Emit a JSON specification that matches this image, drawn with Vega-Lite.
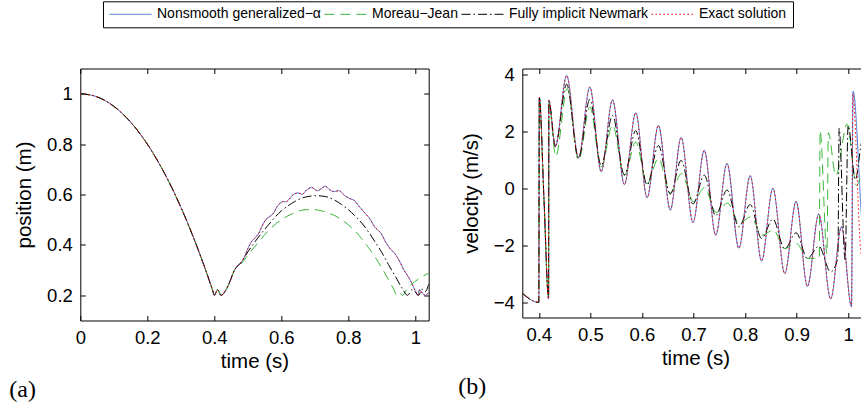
{
  "$schema": "https://vega.github.io/schema/vega-lite/v6.json",
  "padding": {"left": 8.3, "top": 0.5, "right": 0, "bottom": 5},
  "background": "white",
  "bounds": "flush",
  "spacing": 93,
  "config": {
    "view": {"stroke": "black", "strokeWidth": 1},
    "font": "Liberation Sans",
    "axis": {"labelFont": "Liberation Sans", "labelFontSize": 18.5, "labelColor": "black", "titleFont": "Liberation Sans", "titleFontSize": 20.5, "titleFontWeight": "normal", "titleColor": "black", "grid": false, "domain": false, "tickColor": "black", "tickWidth": 1, "labelFlush": false},
    "axisBottom": {"labelPadding": 8, "titlePadding": 5, "labelBaseline": "top"},
    "axisLeft": {"labelPadding": 8, "titlePadding": 12},
    "legend": {"symbolType": "stroke", "symbolSize": 1764, "symbolStrokeWidth": 1, "labelFont": "Liberation Sans", "labelFontSize": 14, "labelColor": "black", "labelLimit": 400, "strokeColor": "black", "fillColor": "white", "padding": 6, "columnPadding": 2, "labelOffset": 5, "clipHeight": 14},
    "title": {"font": "Liberation Serif", "fontSize": 24, "fontWeight": "normal", "color": "black", "orient": "bottom", "anchor": "start", "frame": "group", "offset": 6}
  },
  "resolve": {"scale": {"color": "shared", "strokeDash": "shared"}, "legend": {"color": "shared", "strokeDash": "shared"}},
  "datasets": {
    "pos": [
      {"s": "Nonsmooth generalized−α", "t": 0, "y": 1}, {"s": "Nonsmooth generalized−α", "t": 0.05, "y": 0.9875}, {"s": "Nonsmooth generalized−α", "t": 0.1, "y": 0.95}, {"s": "Nonsmooth generalized−α", "t": 0.15, "y": 0.8875}, {"s": "Nonsmooth generalized−α", "t": 0.2, "y": 0.8}, {"s": "Nonsmooth generalized−α", "t": 0.25, "y": 0.6875}, {"s": "Nonsmooth generalized−α", "t": 0.3, "y": 0.55}, {"s": "Nonsmooth generalized−α", "t": 0.35, "y": 0.3875}, {"s": "Nonsmooth generalized−α", "t": 0.38, "y": 0.278}, {"s": "Nonsmooth generalized−α", "t": 0.39, "y": 0.2395}, {"s": "Nonsmooth generalized−α", "t": 0.395, "y": 0.2199}, {"s": "Nonsmooth generalized−α", "t": 0.4, "y": 0.2}, {"s": "Nonsmooth generalized−α", "t": 0.41, "y": 0.222}, {"s": "Nonsmooth generalized−α", "t": 0.42, "y": 0.2},
      {"s": "Nonsmooth generalized−α", "t": 0.432, "y": 0.215}, {"s": "Nonsmooth generalized−α", "t": 0.445, "y": 0.248}, {"s": "Nonsmooth generalized−α", "t": 0.454, "y": 0.28}, {"s": "Nonsmooth generalized−α", "t": 0.466, "y": 0.312}, {"s": "Nonsmooth generalized−α", "t": 0.478, "y": 0.327}, {"s": "Nonsmooth generalized−α", "t": 0.49, "y": 0.352}, {"s": "Nonsmooth generalized−α", "t": 0.5, "y": 0.385}, {"s": "Nonsmooth generalized−α", "t": 0.512, "y": 0.415}, {"s": "Nonsmooth generalized−α", "t": 0.522, "y": 0.428}, {"s": "Nonsmooth generalized−α", "t": 0.533, "y": 0.447}, {"s": "Nonsmooth generalized−α", "t": 0.543, "y": 0.476}, {"s": "Nonsmooth generalized−α", "t": 0.555, "y": 0.502}, {"s": "Nonsmooth generalized−α", "t": 0.566, "y": 0.513}, {"s": "Nonsmooth generalized−α", "t": 0.577, "y": 0.526}, {"s": "Nonsmooth generalized−α", "t": 0.588, "y": 0.553}, {"s": "Nonsmooth generalized−α", "t": 0.6, "y": 0.569}, {"s": "Nonsmooth generalized−α", "t": 0.607, "y": 0.572}, {"s": "Nonsmooth generalized−α", "t": 0.613, "y": 0.571}, {"s": "Nonsmooth generalized−α", "t": 0.622, "y": 0.579}, {"s": "Nonsmooth generalized−α", "t": 0.634, "y": 0.598}, {"s": "Nonsmooth generalized−α", "t": 0.65, "y": 0.606}, {"s": "Nonsmooth generalized−α", "t": 0.662, "y": 0.601}, {"s": "Nonsmooth generalized−α", "t": 0.677, "y": 0.619}, {"s": "Nonsmooth generalized−α", "t": 0.69, "y": 0.628}, {"s": "Nonsmooth generalized−α", "t": 0.708, "y": 0.615}, {"s": "Nonsmooth generalized−α", "t": 0.72, "y": 0.624}, {"s": "Nonsmooth generalized−α", "t": 0.731, "y": 0.633}, {"s": "Nonsmooth generalized−α", "t": 0.745, "y": 0.618}, {"s": "Nonsmooth generalized−α", "t": 0.756, "y": 0.612}, {"s": "Nonsmooth generalized−α", "t": 0.772, "y": 0.615}, {"s": "Nonsmooth generalized−α", "t": 0.79, "y": 0.595}, {"s": "Nonsmooth generalized−α", "t": 0.806, "y": 0.583}, {"s": "Nonsmooth generalized−α", "t": 0.816, "y": 0.578}, {"s": "Nonsmooth generalized−α", "t": 0.832, "y": 0.553}, {"s": "Nonsmooth generalized−α", "t": 0.854, "y": 0.52}, {"s": "Nonsmooth generalized−α", "t": 0.866, "y": 0.5}, {"s": "Nonsmooth generalized−α", "t": 0.877, "y": 0.475}, {"s": "Nonsmooth generalized−α", "t": 0.899, "y": 0.443}, {"s": "Nonsmooth generalized−α", "t": 0.91, "y": 0.415}, {"s": "Nonsmooth generalized−α", "t": 0.921, "y": 0.392}, {"s": "Nonsmooth generalized−α", "t": 0.943, "y": 0.358}, {"s": "Nonsmooth generalized−α", "t": 0.955, "y": 0.33}, {"s": "Nonsmooth generalized−α", "t": 0.966, "y": 0.3}, {"s": "Nonsmooth generalized−α", "t": 0.977, "y": 0.278}, {"s": "Nonsmooth generalized−α", "t": 0.987, "y": 0.255}, {"s": "Nonsmooth generalized−α", "t": 1.0, "y": 0.218}, {"s": "Nonsmooth generalized−α", "t": 1.007, "y": 0.2}, {"s": "Nonsmooth generalized−α", "t": 1.013, "y": 0.222}, {"s": "Nonsmooth generalized−α", "t": 1.022, "y": 0.207}, {"s": "Nonsmooth generalized−α", "t": 1.03, "y": 0.2}, {"s": "Nonsmooth generalized−α", "t": 1.04, "y": 0.212},

      {"s": "Moreau−Jean", "t": 0, "y": 1}, {"s": "Moreau−Jean", "t": 0.05, "y": 0.9875}, {"s": "Moreau−Jean", "t": 0.1, "y": 0.95}, {"s": "Moreau−Jean", "t": 0.15, "y": 0.8875}, {"s": "Moreau−Jean", "t": 0.2, "y": 0.8}, {"s": "Moreau−Jean", "t": 0.25, "y": 0.6875}, {"s": "Moreau−Jean", "t": 0.3, "y": 0.55}, {"s": "Moreau−Jean", "t": 0.35, "y": 0.3875}, {"s": "Moreau−Jean", "t": 0.38, "y": 0.278}, {"s": "Moreau−Jean", "t": 0.39, "y": 0.2395}, {"s": "Moreau−Jean", "t": 0.395, "y": 0.2199}, {"s": "Moreau−Jean", "t": 0.4, "y": 0.2}, {"s": "Moreau−Jean", "t": 0.41, "y": 0.222}, {"s": "Moreau−Jean", "t": 0.42, "y": 0.2},
      {"s": "Moreau−Jean", "t": 0.432, "y": 0.215}, {"s": "Moreau−Jean", "t": 0.445, "y": 0.25}, {"s": "Moreau−Jean", "t": 0.46, "y": 0.3}, {"s": "Moreau−Jean", "t": 0.48, "y": 0.325}, {"s": "Moreau−Jean", "t": 0.51, "y": 0.376}, {"s": "Moreau−Jean", "t": 0.535, "y": 0.415}, {"s": "Moreau−Jean", "t": 0.56, "y": 0.455}, {"s": "Moreau−Jean", "t": 0.585, "y": 0.485}, {"s": "Moreau−Jean", "t": 0.61, "y": 0.508}, {"s": "Moreau−Jean", "t": 0.63, "y": 0.522}, {"s": "Moreau−Jean", "t": 0.65, "y": 0.533}, {"s": "Moreau−Jean", "t": 0.675, "y": 0.54}, {"s": "Moreau−Jean", "t": 0.7, "y": 0.54}, {"s": "Moreau−Jean", "t": 0.72, "y": 0.535}, {"s": "Moreau−Jean", "t": 0.74, "y": 0.527}, {"s": "Moreau−Jean", "t": 0.76, "y": 0.516}, {"s": "Moreau−Jean", "t": 0.78, "y": 0.5}, {"s": "Moreau−Jean", "t": 0.8, "y": 0.48}, {"s": "Moreau−Jean", "t": 0.82, "y": 0.455}, {"s": "Moreau−Jean", "t": 0.84, "y": 0.425}, {"s": "Moreau−Jean", "t": 0.86, "y": 0.39}, {"s": "Moreau−Jean", "t": 0.88, "y": 0.352}, {"s": "Moreau−Jean", "t": 0.9, "y": 0.308}, {"s": "Moreau−Jean", "t": 0.92, "y": 0.262}, {"s": "Moreau−Jean", "t": 0.935, "y": 0.225}, {"s": "Moreau−Jean", "t": 0.945, "y": 0.2}, {"s": "Moreau−Jean", "t": 0.953, "y": 0.21}, {"s": "Moreau−Jean", "t": 0.962, "y": 0.2}, {"s": "Moreau−Jean", "t": 0.975, "y": 0.225}, {"s": "Moreau−Jean", "t": 0.99, "y": 0.245}, {"s": "Moreau−Jean", "t": 1.01, "y": 0.265}, {"s": "Moreau−Jean", "t": 1.04, "y": 0.288},

      {"s": "Fully implicit Newmark", "t": 0, "y": 1}, {"s": "Fully implicit Newmark", "t": 0.05, "y": 0.9875}, {"s": "Fully implicit Newmark", "t": 0.1, "y": 0.95}, {"s": "Fully implicit Newmark", "t": 0.15, "y": 0.8875}, {"s": "Fully implicit Newmark", "t": 0.2, "y": 0.8}, {"s": "Fully implicit Newmark", "t": 0.25, "y": 0.6875}, {"s": "Fully implicit Newmark", "t": 0.3, "y": 0.55}, {"s": "Fully implicit Newmark", "t": 0.35, "y": 0.3875}, {"s": "Fully implicit Newmark", "t": 0.38, "y": 0.278}, {"s": "Fully implicit Newmark", "t": 0.39, "y": 0.2395}, {"s": "Fully implicit Newmark", "t": 0.395, "y": 0.2199}, {"s": "Fully implicit Newmark", "t": 0.4, "y": 0.2}, {"s": "Fully implicit Newmark", "t": 0.41, "y": 0.222}, {"s": "Fully implicit Newmark", "t": 0.42, "y": 0.2},
      {"s": "Fully implicit Newmark", "t": 0.432, "y": 0.215}, {"s": "Fully implicit Newmark", "t": 0.445, "y": 0.25}, {"s": "Fully implicit Newmark", "t": 0.46, "y": 0.3}, {"s": "Fully implicit Newmark", "t": 0.48, "y": 0.33}, {"s": "Fully implicit Newmark", "t": 0.5, "y": 0.372}, {"s": "Fully implicit Newmark", "t": 0.52, "y": 0.41}, {"s": "Fully implicit Newmark", "t": 0.54, "y": 0.445}, {"s": "Fully implicit Newmark", "t": 0.56, "y": 0.477}, {"s": "Fully implicit Newmark", "t": 0.58, "y": 0.508}, {"s": "Fully implicit Newmark", "t": 0.6, "y": 0.535}, {"s": "Fully implicit Newmark", "t": 0.62, "y": 0.555}, {"s": "Fully implicit Newmark", "t": 0.64, "y": 0.572}, {"s": "Fully implicit Newmark", "t": 0.66, "y": 0.585}, {"s": "Fully implicit Newmark", "t": 0.68, "y": 0.592}, {"s": "Fully implicit Newmark", "t": 0.7, "y": 0.595}, {"s": "Fully implicit Newmark", "t": 0.72, "y": 0.594}, {"s": "Fully implicit Newmark", "t": 0.74, "y": 0.589}, {"s": "Fully implicit Newmark", "t": 0.76, "y": 0.577}, {"s": "Fully implicit Newmark", "t": 0.78, "y": 0.56}, {"s": "Fully implicit Newmark", "t": 0.8, "y": 0.54}, {"s": "Fully implicit Newmark", "t": 0.82, "y": 0.515}, {"s": "Fully implicit Newmark", "t": 0.84, "y": 0.487}, {"s": "Fully implicit Newmark", "t": 0.86, "y": 0.452}, {"s": "Fully implicit Newmark", "t": 0.88, "y": 0.412}, {"s": "Fully implicit Newmark", "t": 0.9, "y": 0.37}, {"s": "Fully implicit Newmark", "t": 0.92, "y": 0.322}, {"s": "Fully implicit Newmark", "t": 0.94, "y": 0.276}, {"s": "Fully implicit Newmark", "t": 0.96, "y": 0.23}, {"s": "Fully implicit Newmark", "t": 0.977, "y": 0.2}, {"s": "Fully implicit Newmark", "t": 0.99, "y": 0.222}, {"s": "Fully implicit Newmark", "t": 1.0, "y": 0.212}, {"s": "Fully implicit Newmark", "t": 1.01, "y": 0.2}, {"s": "Fully implicit Newmark", "t": 1.02, "y": 0.225}, {"s": "Fully implicit Newmark", "t": 1.03, "y": 0.215}, {"s": "Fully implicit Newmark", "t": 1.04, "y": 0.245},

      {"s": "Exact solution", "t": 0, "y": 1}, {"s": "Exact solution", "t": 0.05, "y": 0.9875}, {"s": "Exact solution", "t": 0.1, "y": 0.95}, {"s": "Exact solution", "t": 0.15, "y": 0.8875}, {"s": "Exact solution", "t": 0.2, "y": 0.8}, {"s": "Exact solution", "t": 0.25, "y": 0.6875}, {"s": "Exact solution", "t": 0.3, "y": 0.55}, {"s": "Exact solution", "t": 0.35, "y": 0.3875}, {"s": "Exact solution", "t": 0.38, "y": 0.278}, {"s": "Exact solution", "t": 0.39, "y": 0.2395}, {"s": "Exact solution", "t": 0.395, "y": 0.2199}, {"s": "Exact solution", "t": 0.4, "y": 0.2}, {"s": "Exact solution", "t": 0.41, "y": 0.222}, {"s": "Exact solution", "t": 0.42, "y": 0.2},
      {"s": "Exact solution", "t": 0.432, "y": 0.215}, {"s": "Exact solution", "t": 0.445, "y": 0.248}, {"s": "Exact solution", "t": 0.454, "y": 0.28}, {"s": "Exact solution", "t": 0.466, "y": 0.312}, {"s": "Exact solution", "t": 0.478, "y": 0.327}, {"s": "Exact solution", "t": 0.49, "y": 0.352}, {"s": "Exact solution", "t": 0.5, "y": 0.385}, {"s": "Exact solution", "t": 0.512, "y": 0.415}, {"s": "Exact solution", "t": 0.522, "y": 0.428}, {"s": "Exact solution", "t": 0.533, "y": 0.447}, {"s": "Exact solution", "t": 0.543, "y": 0.476}, {"s": "Exact solution", "t": 0.555, "y": 0.502}, {"s": "Exact solution", "t": 0.566, "y": 0.513}, {"s": "Exact solution", "t": 0.577, "y": 0.526}, {"s": "Exact solution", "t": 0.588, "y": 0.553}, {"s": "Exact solution", "t": 0.6, "y": 0.569}, {"s": "Exact solution", "t": 0.607, "y": 0.572}, {"s": "Exact solution", "t": 0.613, "y": 0.571}, {"s": "Exact solution", "t": 0.622, "y": 0.579}, {"s": "Exact solution", "t": 0.634, "y": 0.598}, {"s": "Exact solution", "t": 0.65, "y": 0.606}, {"s": "Exact solution", "t": 0.662, "y": 0.601}, {"s": "Exact solution", "t": 0.677, "y": 0.619}, {"s": "Exact solution", "t": 0.69, "y": 0.628}, {"s": "Exact solution", "t": 0.708, "y": 0.615}, {"s": "Exact solution", "t": 0.72, "y": 0.624}, {"s": "Exact solution", "t": 0.731, "y": 0.633}, {"s": "Exact solution", "t": 0.745, "y": 0.618}, {"s": "Exact solution", "t": 0.756, "y": 0.612}, {"s": "Exact solution", "t": 0.772, "y": 0.615}, {"s": "Exact solution", "t": 0.79, "y": 0.595}, {"s": "Exact solution", "t": 0.806, "y": 0.583}, {"s": "Exact solution", "t": 0.816, "y": 0.578}, {"s": "Exact solution", "t": 0.832, "y": 0.553}, {"s": "Exact solution", "t": 0.854, "y": 0.52}, {"s": "Exact solution", "t": 0.866, "y": 0.5}, {"s": "Exact solution", "t": 0.877, "y": 0.475}, {"s": "Exact solution", "t": 0.899, "y": 0.443}, {"s": "Exact solution", "t": 0.91, "y": 0.415}, {"s": "Exact solution", "t": 0.921, "y": 0.392}, {"s": "Exact solution", "t": 0.943, "y": 0.358}, {"s": "Exact solution", "t": 0.955, "y": 0.33}, {"s": "Exact solution", "t": 0.966, "y": 0.3}, {"s": "Exact solution", "t": 0.977, "y": 0.278}, {"s": "Exact solution", "t": 0.987, "y": 0.255}, {"s": "Exact solution", "t": 1.0, "y": 0.218}, {"s": "Exact solution", "t": 1.007, "y": 0.2}, {"s": "Exact solution", "t": 1.013, "y": 0.222}, {"s": "Exact solution", "t": 1.022, "y": 0.207}, {"s": "Exact solution", "t": 1.03, "y": 0.2}, {"s": "Exact solution", "t": 1.04, "y": 0.212}
    ],
    "vel": [
      {"s": "Nonsmooth generalized−α", "t": 0.368, "y": -3.68}, {"s": "Nonsmooth generalized−α", "t": 0.4, "y": -4.0}, {"s": "Nonsmooth generalized−α", "t": 0.401, "y": 3.2}, {"s": "Nonsmooth generalized−α", "t": 0.41, "y": -0.35}, {"s": "Nonsmooth generalized−α", "t": 0.419, "y": -3.88}, {"s": "Nonsmooth generalized−α", "t": 0.4195, "y": 3.1}, {"s": "Nonsmooth generalized−α", "t": 0.432, "y": 1.45}, {"s": "Nonsmooth generalized−α", "t": 0.454, "y": 3.95}, {"s": "Nonsmooth generalized−α", "t": 0.477, "y": 1.08}, {"s": "Nonsmooth generalized−α", "t": 0.499, "y": 3.55}, {"s": "Nonsmooth generalized−α", "t": 0.521, "y": 0.58}, {"s": "Nonsmooth generalized−α", "t": 0.543, "y": 3.1}, {"s": "Nonsmooth generalized−α", "t": 0.566, "y": 0.13}, {"s": "Nonsmooth generalized−α", "t": 0.588, "y": 2.65}, {"s": "Nonsmooth generalized−α", "t": 0.61, "y": -0.33}, {"s": "Nonsmooth generalized−α", "t": 0.632, "y": 2.2}, {"s": "Nonsmooth generalized−α", "t": 0.655, "y": -0.76}, {"s": "Nonsmooth generalized−α", "t": 0.676, "y": 1.78}, {"s": "Nonsmooth generalized−α", "t": 0.699, "y": -1.2}, {"s": "Nonsmooth generalized−α", "t": 0.721, "y": 1.33}, {"s": "Nonsmooth generalized−α", "t": 0.743, "y": -1.64}, {"s": "Nonsmooth generalized−α", "t": 0.765, "y": 0.87}, {"s": "Nonsmooth generalized−α", "t": 0.788, "y": -2.1}, {"s": "Nonsmooth generalized−α", "t": 0.81, "y": 0.44}, {"s": "Nonsmooth generalized−α", "t": 0.832, "y": -2.55}, {"s": "Nonsmooth generalized−α", "t": 0.854, "y": 0.0}, {"s": "Nonsmooth generalized−α", "t": 0.877, "y": -2.99}, {"s": "Nonsmooth generalized−α", "t": 0.899, "y": -0.46}, {"s": "Nonsmooth generalized−α", "t": 0.921, "y": -3.44}, {"s": "Nonsmooth generalized−α", "t": 0.943, "y": -0.9}, {"s": "Nonsmooth generalized−α", "t": 0.966, "y": -3.88}, {"s": "Nonsmooth generalized−α", "t": 0.987, "y": -1.35}, {"s": "Nonsmooth generalized−α", "t": 1.0065, "y": -4.15}, {"s": "Nonsmooth generalized−α", "t": 1.0095, "y": 3.4}, {"s": "Nonsmooth generalized−α", "t": 1.028, "y": -1.5}, {"s": "Nonsmooth generalized−α", "t": 1.04, "y": -3.0},

      {"s": "Moreau−Jean", "t": 0.368, "y": -3.68}, {"s": "Moreau−Jean", "t": 0.4, "y": -4.0}, {"s": "Moreau−Jean", "t": 0.401, "y": 3.15}, {"s": "Moreau−Jean", "t": 0.41, "y": -0.4}, {"s": "Moreau−Jean", "t": 0.419, "y": -3.8}, {"s": "Moreau−Jean", "t": 0.4195, "y": 3.0}, {"s": "Moreau−Jean", "t": 0.433, "y": 1.12}, {"s": "Moreau−Jean", "t": 0.455, "y": 3.5}, {"s": "Moreau−Jean", "t": 0.477, "y": 0.98}, {"s": "Moreau−Jean", "t": 0.499, "y": 2.85}, {"s": "Moreau−Jean", "t": 0.521, "y": 0.75}, {"s": "Moreau−Jean", "t": 0.543, "y": 2.22}, {"s": "Moreau−Jean", "t": 0.566, "y": 0.45}, {"s": "Moreau−Jean", "t": 0.588, "y": 1.62}, {"s": "Moreau−Jean", "t": 0.61, "y": 0.17}, {"s": "Moreau−Jean", "t": 0.632, "y": 1.05}, {"s": "Moreau−Jean", "t": 0.655, "y": -0.16}, {"s": "Moreau−Jean", "t": 0.677, "y": 0.52}, {"s": "Moreau−Jean", "t": 0.7, "y": -0.47}, {"s": "Moreau−Jean", "t": 0.721, "y": 0.02}, {"s": "Moreau−Jean", "t": 0.744, "y": -0.85}, {"s": "Moreau−Jean", "t": 0.766, "y": -0.52}, {"s": "Moreau−Jean", "t": 0.789, "y": -1.23}, {"s": "Moreau−Jean", "t": 0.811, "y": -1.0}, {"s": "Moreau−Jean", "t": 0.833, "y": -1.64}, {"s": "Moreau−Jean", "t": 0.855, "y": -1.47}, {"s": "Moreau−Jean", "t": 0.877, "y": -2.11}, {"s": "Moreau−Jean", "t": 0.899, "y": -1.93}, {"s": "Moreau−Jean", "t": 0.922, "y": -2.46}, {"s": "Moreau−Jean", "t": 0.944, "y": -2.45}, {"s": "Moreau−Jean", "t": 0.9455, "y": 2.02}, {"s": "Moreau−Jean", "t": 0.959, "y": -2.3}, {"s": "Moreau−Jean", "t": 0.9615, "y": 1.95}, {"s": "Moreau−Jean", "t": 0.976, "y": 0.45}, {"s": "Moreau−Jean", "t": 0.998, "y": 2.25}, {"s": "Moreau−Jean", "t": 1.016, "y": 0.1}, {"s": "Moreau−Jean", "t": 1.028, "y": 0.6}, {"s": "Moreau−Jean", "t": 1.04, "y": 1.0},

      {"s": "Fully implicit Newmark", "t": 0.368, "y": -3.68}, {"s": "Fully implicit Newmark", "t": 0.4, "y": -4.0}, {"s": "Fully implicit Newmark", "t": 0.401, "y": 3.2}, {"s": "Fully implicit Newmark", "t": 0.41, "y": -0.35}, {"s": "Fully implicit Newmark", "t": 0.419, "y": -3.85}, {"s": "Fully implicit Newmark", "t": 0.4195, "y": 3.05}, {"s": "Fully implicit Newmark", "t": 0.432, "y": 1.5}, {"s": "Fully implicit Newmark", "t": 0.454, "y": 3.65}, {"s": "Fully implicit Newmark", "t": 0.477, "y": 1.05}, {"s": "Fully implicit Newmark", "t": 0.499, "y": 3.12}, {"s": "Fully implicit Newmark", "t": 0.521, "y": 0.8}, {"s": "Fully implicit Newmark", "t": 0.543, "y": 2.55}, {"s": "Fully implicit Newmark", "t": 0.566, "y": 0.47}, {"s": "Fully implicit Newmark", "t": 0.588, "y": 2.02}, {"s": "Fully implicit Newmark", "t": 0.61, "y": 0.12}, {"s": "Fully implicit Newmark", "t": 0.632, "y": 1.5}, {"s": "Fully implicit Newmark", "t": 0.655, "y": -0.2}, {"s": "Fully implicit Newmark", "t": 0.676, "y": 0.98}, {"s": "Fully implicit Newmark", "t": 0.699, "y": -0.55}, {"s": "Fully implicit Newmark", "t": 0.721, "y": 0.46}, {"s": "Fully implicit Newmark", "t": 0.743, "y": -0.96}, {"s": "Fully implicit Newmark", "t": 0.765, "y": -0.06}, {"s": "Fully implicit Newmark", "t": 0.788, "y": -1.35}, {"s": "Fully implicit Newmark", "t": 0.81, "y": -0.57}, {"s": "Fully implicit Newmark", "t": 0.832, "y": -1.76}, {"s": "Fully implicit Newmark", "t": 0.854, "y": -1.08}, {"s": "Fully implicit Newmark", "t": 0.877, "y": -2.13}, {"s": "Fully implicit Newmark", "t": 0.899, "y": -1.56}, {"s": "Fully implicit Newmark", "t": 0.921, "y": -2.46}, {"s": "Fully implicit Newmark", "t": 0.943, "y": -2.03}, {"s": "Fully implicit Newmark", "t": 0.966, "y": -2.93}, {"s": "Fully implicit Newmark", "t": 0.98, "y": -2.45}, {"s": "Fully implicit Newmark", "t": 0.9825, "y": 2.1}, {"s": "Fully implicit Newmark", "t": 0.994, "y": -2.5}, {"s": "Fully implicit Newmark", "t": 1.0, "y": 2.2}, {"s": "Fully implicit Newmark", "t": 1.014, "y": 0.3}, {"s": "Fully implicit Newmark", "t": 1.028, "y": 1.7}, {"s": "Fully implicit Newmark", "t": 1.04, "y": 1.2},

      {"s": "Exact solution", "t": 0.368, "y": -3.68}, {"s": "Exact solution", "t": 0.4, "y": -4.0}, {"s": "Exact solution", "t": 0.401, "y": 3.2}, {"s": "Exact solution", "t": 0.41, "y": -0.35}, {"s": "Exact solution", "t": 0.419, "y": -3.88}, {"s": "Exact solution", "t": 0.4195, "y": 3.1}, {"s": "Exact solution", "t": 0.432, "y": 1.45}, {"s": "Exact solution", "t": 0.454, "y": 3.95}, {"s": "Exact solution", "t": 0.477, "y": 1.08}, {"s": "Exact solution", "t": 0.499, "y": 3.55}, {"s": "Exact solution", "t": 0.521, "y": 0.58}, {"s": "Exact solution", "t": 0.543, "y": 3.1}, {"s": "Exact solution", "t": 0.566, "y": 0.13}, {"s": "Exact solution", "t": 0.588, "y": 2.65}, {"s": "Exact solution", "t": 0.61, "y": -0.33}, {"s": "Exact solution", "t": 0.632, "y": 2.2}, {"s": "Exact solution", "t": 0.655, "y": -0.76}, {"s": "Exact solution", "t": 0.676, "y": 1.78}, {"s": "Exact solution", "t": 0.699, "y": -1.2}, {"s": "Exact solution", "t": 0.721, "y": 1.33}, {"s": "Exact solution", "t": 0.743, "y": -1.64}, {"s": "Exact solution", "t": 0.765, "y": 0.87}, {"s": "Exact solution", "t": 0.788, "y": -2.1}, {"s": "Exact solution", "t": 0.81, "y": 0.44}, {"s": "Exact solution", "t": 0.832, "y": -2.55}, {"s": "Exact solution", "t": 0.854, "y": 0.0}, {"s": "Exact solution", "t": 0.877, "y": -2.99}, {"s": "Exact solution", "t": 0.899, "y": -0.46}, {"s": "Exact solution", "t": 0.921, "y": -3.44}, {"s": "Exact solution", "t": 0.943, "y": -0.9}, {"s": "Exact solution", "t": 0.966, "y": -3.88}, {"s": "Exact solution", "t": 0.987, "y": -1.35}, {"s": "Exact solution", "t": 1.0065, "y": -4.15}, {"s": "Exact solution", "t": 1.009, "y": 3.3}, {"s": "Exact solution", "t": 1.024, "y": -2.1}, {"s": "Exact solution", "t": 1.04, "y": -3.5}
    ]
  },
  "hconcat": [
    {
      "width": 348.4,
      "height": 252,
      "title": {"text": "(a)", "dx": -71},
      "data": {"name": "pos"},
      "layer": [
        {
          "mark": {"type": "line", "interpolate": "monotone", "strokeWidth": 1, "clip": true},
          "encoding": {
            "x": {"field": "t", "type": "quantitative", "scale": {"domain": [0, 1.04], "nice": false, "zero": false}, "axis": {"orient": "bottom", "title": "time (s)", "values": [0, 0.2, 0.4, 0.6, 0.8, 1], "format": "~g", "offset": -5, "tickSize": 5}},
            "y": {"field": "y", "type": "quantitative", "scale": {"domain": [0.1, 1.1], "nice": false, "zero": false}, "axis": {"orient": "left", "title": "position (m)", "values": [0.2, 0.4, 0.6, 0.8, 1], "format": "~g", "offset": -5, "tickSize": 5}},
            "color": {"field": "s", "type": "nominal", "scale": {"domain": ["Nonsmooth generalized−α", "Moreau−Jean", "Fully implicit Newmark", "Exact solution"], "range": ["#3b6fd4", "#36b536", "#000000", "#ff0000"]}, "legend": {"title": null, "orient": "none", "direction": "horizontal", "legendX": 22.7, "legendY": -67.2}},
            "strokeDash": {"field": "s", "type": "nominal", "scale": {"domain": ["Nonsmooth generalized−α", "Moreau−Jean", "Fully implicit Newmark", "Exact solution"], "range": [[1, 0], [10, 6], [9, 3, 1.5, 3], [1.5, 2.5]]}, "legend": {"title": null, "orient": "none", "direction": "horizontal", "legendX": 22.7, "legendY": -67.2}}
          }
        },
        {
          "mark": {"type": "point", "opacity": 0},
          "encoding": {
            "x": {"field": "t", "type": "quantitative", "scale": {"domain": [0, 1.04], "nice": false, "zero": false}, "axis": {"orient": "top", "title": null, "labels": false, "offset": -5, "tickSize": 5, "values": [0, 0.2, 0.4, 0.6, 0.8, 1]}},
            "y": {"field": "y", "type": "quantitative", "scale": {"domain": [0.1, 1.1], "nice": false, "zero": false}, "axis": {"orient": "right", "title": null, "labels": false, "offset": -5, "tickSize": 5, "values": [0.2, 0.4, 0.6, 0.8, 1]}}
          }
        }
      ],
      "resolve": {"axis": {"x": "independent", "y": "independent"}}
    },
    {
      "width": 346.5,
      "height": 249,
      "title": {"text": "(b)", "dx": -64},
      "data": {"name": "vel"},
      "layer": [
        {
          "mark": {"type": "line", "interpolate": "monotone", "strokeWidth": 1, "clip": true},
          "encoding": {
            "x": {"field": "t", "type": "quantitative", "scale": {"domain": [0.368, 1.04], "nice": false, "zero": false}, "axis": {"orient": "bottom", "title": "time (s)", "values": [0.4, 0.5, 0.6, 0.7, 0.8, 0.9, 1], "format": "~g", "offset": -5, "tickSize": 5}},
            "y": {"field": "y", "type": "quantitative", "scale": {"domain": [-4.53, 4.2], "nice": false, "zero": false}, "axis": {"orient": "left", "title": "velocity (m/s)", "values": [-4, -2, 0, 2, 4], "format": "~g", "offset": -5, "tickSize": 5}},
            "color": {"field": "s", "type": "nominal", "scale": {"domain": ["Nonsmooth generalized−α", "Moreau−Jean", "Fully implicit Newmark", "Exact solution"], "range": ["#3b6fd4", "#36b536", "#000000", "#ff0000"]}, "legend": {"title": null, "orient": "none", "direction": "horizontal", "legendX": 22.7, "legendY": -67.2}},
            "strokeDash": {"field": "s", "type": "nominal", "scale": {"domain": ["Nonsmooth generalized−α", "Moreau−Jean", "Fully implicit Newmark", "Exact solution"], "range": [[1, 0], [10, 6], [9, 3, 1.5, 3], [1.5, 2.5]]}, "legend": {"title": null, "orient": "none", "direction": "horizontal", "legendX": 22.7, "legendY": -67.2}}
          }
        },
        {
          "mark": {"type": "point", "opacity": 0},
          "encoding": {
            "x": {"field": "t", "type": "quantitative", "scale": {"domain": [0.368, 1.04], "nice": false, "zero": false}, "axis": {"orient": "top", "title": null, "labels": false, "offset": -5, "tickSize": 5, "values": [0.4, 0.5, 0.6, 0.7, 0.8, 0.9, 1]}},
            "y": {"field": "y", "type": "quantitative", "scale": {"domain": [-4.53, 4.2], "nice": false, "zero": false}, "axis": {"orient": "right", "title": null, "labels": false, "offset": -5, "tickSize": 5, "values": [-4, -2, 0, 2, 4]}}
          }
        }
      ],
      "resolve": {"axis": {"x": "independent", "y": "independent"}}
    }
  ]
}
